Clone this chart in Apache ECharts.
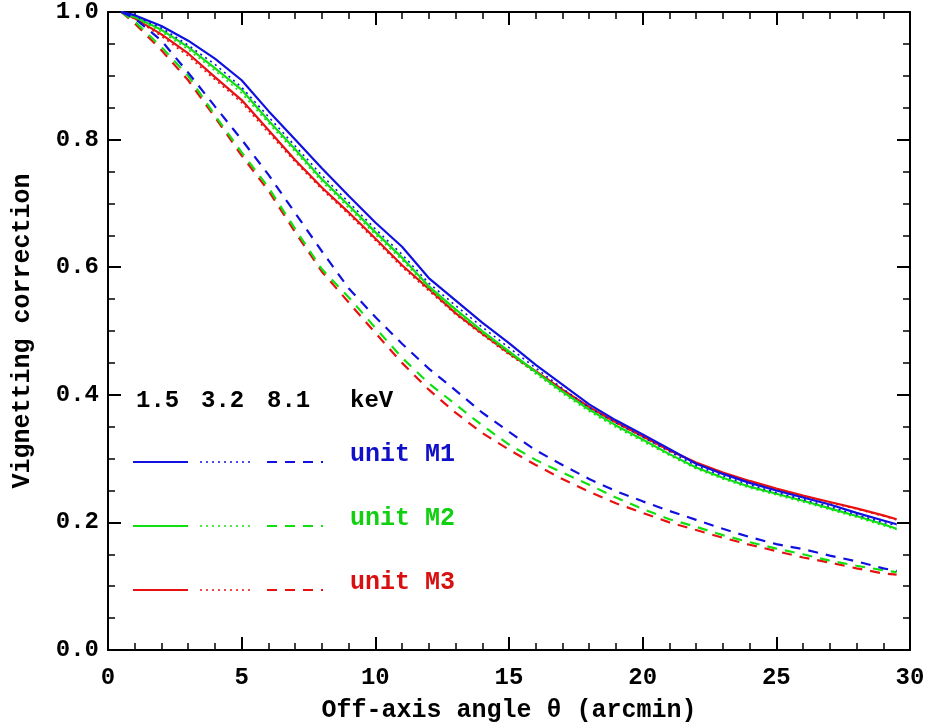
<!DOCTYPE html>
<html>
<head>
<meta charset="utf-8">
<script src="https://cdn.jsdelivr.net/npm/echarts@6/dist/echarts.min.js"></script>
<style>
html,body{margin:0;padding:0;background:#fff;}
#chart{width:928px;height:728px;}
</style>
</head>
<body>
<div id="chart"></div>
<script>
// ---- data ----
const angles = [0.5,1,2,3,4,5,6,7,8,9,10,11,12,13,14,15,16,17,18,19,20,21,22,23,24,25,26,27,28,29,29.5];
const m1_15 = [1.000,0.995,0.978,0.955,0.927,0.893,0.845,0.800,0.755,0.712,0.670,0.632,0.583,0.548,0.513,0.481,0.447,0.416,0.385,0.360,0.338,0.315,0.292,0.276,0.262,0.250,0.239,0.228,0.215,0.203,0.197];
const m1_32 = [1.000,0.994,0.975,0.948,0.918,0.882,0.836,0.790,0.744,0.702,0.660,0.620,0.575,0.540,0.506,0.474,0.442,0.410,0.380,0.356,0.334,0.311,0.289,0.273,0.259,0.247,0.236,0.225,0.212,0.200,0.195];
const m1_81 = [1.000,0.990,0.955,0.905,0.852,0.800,0.745,0.685,0.625,0.567,0.522,0.480,0.441,0.407,0.372,0.342,0.313,0.290,0.268,0.249,0.233,0.218,0.204,0.190,0.177,0.166,0.158,0.148,0.139,0.128,0.124];
const m2_15 = [1.000,0.992,0.972,0.945,0.912,0.878,0.830,0.785,0.738,0.697,0.655,0.615,0.570,0.534,0.500,0.468,0.436,0.405,0.377,0.352,0.330,0.307,0.286,0.270,0.256,0.245,0.234,0.222,0.210,0.197,0.190];
const m2_32 = [1.000,0.991,0.969,0.941,0.908,0.873,0.826,0.781,0.734,0.693,0.651,0.611,0.567,0.531,0.497,0.465,0.433,0.402,0.374,0.349,0.327,0.305,0.284,0.268,0.254,0.243,0.232,0.220,0.208,0.195,0.189];
const m2_81 = [1.000,0.985,0.945,0.900,0.838,0.780,0.725,0.660,0.597,0.553,0.505,0.458,0.418,0.385,0.352,0.322,0.298,0.278,0.259,0.239,0.221,0.205,0.193,0.180,0.169,0.159,0.150,0.140,0.132,0.125,0.122];
const m3_15 = [1.000,0.990,0.965,0.935,0.898,0.862,0.815,0.768,0.725,0.686,0.645,0.603,0.566,0.528,0.496,0.465,0.437,0.408,0.381,0.357,0.335,0.313,0.294,0.278,0.265,0.253,0.242,0.232,0.222,0.211,0.205];
const m3_32 = [1.000,0.989,0.962,0.931,0.894,0.858,0.811,0.765,0.722,0.683,0.642,0.600,0.563,0.526,0.494,0.463,0.435,0.406,0.380,0.356,0.334,0.312,0.293,0.277,0.264,0.252,0.241,0.231,0.221,0.210,0.204];
const m3_81 = [1.000,0.982,0.940,0.893,0.835,0.775,0.720,0.655,0.593,0.545,0.497,0.450,0.408,0.372,0.340,0.314,0.290,0.268,0.248,0.230,0.215,0.200,0.188,0.176,0.165,0.155,0.145,0.137,0.128,0.120,0.118];

const energyLabels = ['1.5','3.2','8.1','keV'];
const unitLabels = ['unit M1','unit M2','unit M3'];
const xTitle = 'Off-axis angle \u03B8 (arcmin)';
const yTitle = 'Vignetting correction';

const colors = ['#1010e0','#10e010','#e81010'];
const textColors = ['#1010c8','#10d010','#d81010'];
const FONT = 'Liberation Mono';

function pairs(ys){ return angles.map((a,i)=>[a, ys[i]]); }
const groups = [[m1_15,m1_32,m1_81],[m2_15,m2_32,m2_81],[m3_15,m3_32,m3_81]];
const styles = ['solid',[2,4],[10,8]];

const series = [];
groups.forEach((g,gi)=>{
  g.forEach((ys,si)=>{
    series.push({
      type:'line', data:pairs(ys), showSymbol:false, symbol:'none', smooth:false,
      xAxisIndex:0, yAxisIndex:0,
      lineStyle:{color:colors[gi], width: si===1?1.6:2.2, type:styles[si]},
      z: 3 - gi
    });
  });
});

const axisLine = {show:true, onZero:false, lineStyle:{color:'#000', width:2}};
const tickBase = {show:true, inside:true, length:13, lineStyle:{color:'#000', width:2}};
const minorBase = {show:true, length:7, lineStyle:{color:'#000', width:1.5}};
const labelStyle = {color:'#000', fontFamily:FONT, fontWeight:'bold', fontSize:24};

// legend graphics
const graphic = [];
const lx = [136, 201, 267, 350];
energyLabels.forEach((t,i)=>{
  graphic.push({type:'text', x:lx[i], y:401, style:{text:t, fill:'#000', verticalAlign:'middle', font:'bold 24px "'+FONT+'"'}});
});
const rowY = [462, 526, 590];
rowY.forEach((y,i)=>{
  graphic.push({type:'line', shape:{x1:133,y1:y,x2:188,y2:y}, style:{stroke:colors[i], lineWidth:2}});
  graphic.push({type:'line', shape:{x1:200,y1:y,x2:253,y2:y}, style:{stroke:colors[i], lineWidth:1.6, lineDash:[2,4]}});
  graphic.push({type:'line', shape:{x1:267,y1:y,x2:323,y2:y}, style:{stroke:colors[i], lineWidth:2, lineDash:[10,8]}});
  graphic.push({type:'text', x:350, y:y-7, style:{text:unitLabels[i], fill:textColors[i], verticalAlign:'middle', font:'bold 25px "'+FONT+'"'}});
});

const chart = echarts.init(document.getElementById('chart'), null, {renderer:'canvas'});
chart.setOption({
  animation:false,
  backgroundColor:'#fff',
  grid:{left:108, right:18, top:12, bottom:76, containLabel:false},
  xAxis:[
    {type:'value', min:0, max:30, interval:5, position:'bottom',
     axisLine, axisTick:tickBase, minorTick:Object.assign({splitNumber:5}, minorBase),
     splitLine:{show:false},
     axisLabel:Object.assign({margin:16}, labelStyle),
     name:xTitle, nameLocation:'middle', nameGap:48,
     nameTextStyle:{color:'#000', fontFamily:FONT, fontWeight:'bold', fontSize:25}},
    {type:'value', min:0, max:30, interval:5, position:'top',
     axisLine, axisTick:tickBase, minorTick:Object.assign({splitNumber:5}, minorBase),
     splitLine:{show:false}, axisLabel:{show:false}}
  ],
  yAxis:[
    {type:'value', min:0, max:1, interval:0.2, position:'left',
     axisLine, axisTick:tickBase, minorTick:Object.assign({splitNumber:4}, minorBase),
     splitLine:{show:false},
     axisLabel:Object.assign({margin:9, formatter:v=>v.toFixed(1)}, labelStyle),
     name:yTitle, nameLocation:'middle', nameGap:73, nameRotate:90,
     nameTextStyle:{color:'#000', fontFamily:FONT, fontWeight:'bold', fontSize:25}},
    {type:'value', min:0, max:1, interval:0.2, position:'right',
     axisLine, axisTick:tickBase, minorTick:Object.assign({splitNumber:4}, minorBase),
     splitLine:{show:false}, axisLabel:{show:false}}
  ],
  series,
  graphic
});
</script>
</body>
</html>
